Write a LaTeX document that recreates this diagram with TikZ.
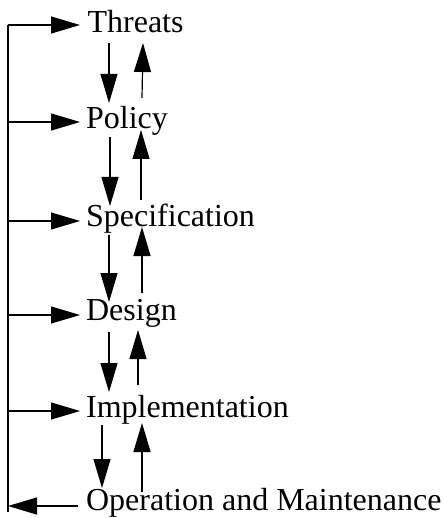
\documentclass[tikz,border=0pt]{standalone}
\usepackage{fontspec}
\setmainfont{Liberation Serif}
\usetikzlibrary{arrows.meta}
\begin{document}
\begin{tikzpicture}[x=1pt,y=-1pt,line width=1.2pt,
  arr/.style={-{Triangle[length=29pt,width=17pt]}},
  lbl/.style={anchor=base west,inner sep=0pt,font=\fontsize{32}{38}\selectfont}]
\useasboundingbox (0,0) rectangle (443,518);
% labels
\node[lbl] (T) at (87,33)  {Threats};
\node[lbl] (P) at (85.5,129) {Policy};
\node[lbl] (S) at (85.5,226) {Specification};
\node[lbl] (D) at (85.5,320) {Design};
\node[lbl] (I) at (85.5,417) {Implementation};
\node[lbl] (O) at (85.5,510.5) {Operation and Maintenance};
% rail
\coordinate (r1) at (8,25);
\coordinate (r2) at (8,122);
\coordinate (r3) at (8,221);
\coordinate (r4) at (8,315);
\coordinate (r5) at (8,411);
\coordinate (r6) at (8,506);
\coordinate (rb) at (8,512);
\draw (r1) -- (rb);
% feed arrows
\coordinate (h1) at (80,25);
\coordinate (h2) at (80,122);
\coordinate (h3) at (80,221);
\coordinate (h4) at (80,315);
\coordinate (h5) at (80,411);
\coordinate (h6) at (78,506);
\draw[arr] (r1) -- (h1);
\draw[arr] (r2) -- (h2);
\draw[arr] (r3) -- (h3);
\draw[arr] (r4) -- (h4);
\draw[arr] (r5) -- (h5);
\draw[arr] (h6) -- (r6);
% down arrows
\coordinate (d1a) at (109,43);  \coordinate (d1b) at (109,103);
\coordinate (d2a) at (110,137); \coordinate (d2b) at (110,206);
\coordinate (d3a) at (109,235); \coordinate (d3b) at (109,302);
\coordinate (d4a) at (109,332); \coordinate (d4b) at (109,392);
\coordinate (d5a) at (102,425); \coordinate (d5b) at (102,488);
\draw[arr] (d1a) -- (d1b);
\draw[arr] (d2a) -- (d2b);
\draw[arr] (d3a) -- (d3b);
\draw[arr] (d4a) -- (d4b);
\draw[arr] (d5a) -- (d5b);
% up arrows
\coordinate (u1a) at (142,98);  \coordinate (u1b) at (143,43);
\coordinate (u2a) at (141,200); \coordinate (u2b) at (141,130);
\coordinate (u3a) at (142,293); \coordinate (u3b) at (142,227);
\coordinate (u4a) at (138,385); \coordinate (u4b) at (138,330);
\coordinate (u5a) at (142,492); \coordinate (u5b) at (142,423);
\draw[arr] (u1a) -- (u1b);
\draw[arr] (u2a) -- (u2b);
\draw[arr] (u3a) -- (u3b);
\draw[arr] (u4a) -- (u4b);
\draw[arr] (u5a) -- (u5b);
\end{tikzpicture}
\end{document}
